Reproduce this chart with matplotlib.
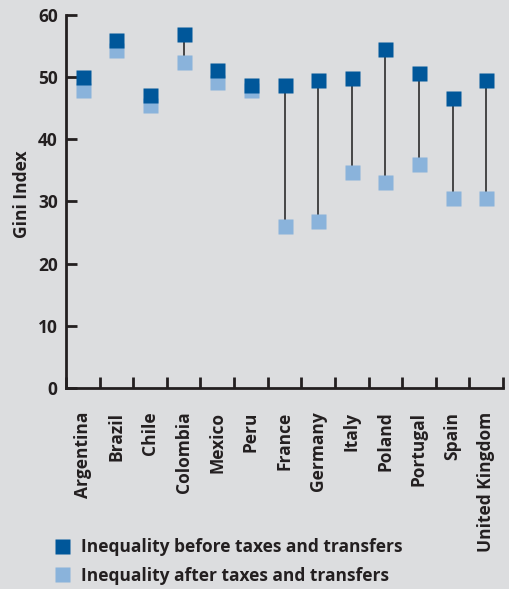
import matplotlib.pyplot as plt
from matplotlib.lines import Line2D
import numpy as np

countries = ["Argentina", "Brazil", "Chile", "Colombia", "Mexico", "Peru", "France",
             "Germany", "Italy", "Poland", "Portugal", "Spain", "United Kingdom"]
gini_before = [50.1, 56.0, 47.2, 56.9, 51.1, 48.7, 48.8, 49.5, 49.9, 54.6, 50.7, 46.7, 49.6]
gini_after = [48.0, 54.3, 45.6, 52.4, 49.3, 47.9, 26.0, 26.8, 34.8, 33.2, 36.1, 30.5, 30.6]
y_ticks = [0, 10, 20, 30, 40, 50, 60]

bg = "#dcdddf"
dark_blue = "#00579a"
light_blue = "#8ab3db"
ink = "#231f20"
fs = 12.5

plt.rcParams["font.family"] = ["Open Sans", "DejaVu Sans"]

fig = plt.figure(figsize=(5.09, 5.89), dpi=100, facecolor=bg)
ax = fig.add_axes([0.1297, 0.3413, 0.8585, 0.6332], facecolor=bg)

x = np.arange(len(countries)) + 0.5

# connecting lines behind the squares
ax.vlines(x, gini_after, gini_before, color="#3a3a3a", lw=1.3, zorder=1)
ax.plot(x, gini_after, "s", ms=10.8, color=light_blue, mec="none", zorder=2)
ax.plot(x, gini_before, "s", ms=10.8, color=dark_blue, mec="none", zorder=3)

ax.set_xlim(0, len(countries))
ax.set_ylim(0, 60)

ax.set_yticks(y_ticks)
ax.set_yticklabels([str(t) for t in y_ticks], fontsize=fs, fontweight="bold", color=ink)
ax.tick_params(axis="y", direction="in", length=8, width=2, color=ink, pad=6)

ax.set_xticks(x)
ax.set_xticklabels(countries, rotation=90, fontsize=fs, fontweight="bold", color=ink)
ax.tick_params(axis="x", which="major", length=0, pad=17)
ax.set_xticks(np.arange(len(countries) + 1), minor=True)
ax.tick_params(axis="x", which="minor", direction="in", length=8, width=2, color=ink)

for side in ["top", "right"]:
    ax.spines[side].set_visible(False)
for side in ["left", "bottom"]:
    ax.spines[side].set_linewidth(2)
    ax.spines[side].set_color(ink)

ax.set_ylabel("Gini Index", fontsize=fs, fontweight="bold", color=ink)
ax.yaxis.set_label_coords(-0.08, 0.52)

handles = [
    Line2D([], [], ls="none", marker="s", ms=10.8, color=dark_blue, mec="none"),
    Line2D([], [], ls="none", marker="s", ms=10.8, color=light_blue, mec="none"),
]
fig.legend(handles, ["Inequality before taxes and transfers",
                     "Inequality after taxes and transfers"],
           loc="upper left", bbox_to_anchor=(0.104, 0.087), frameon=False,
           handletextpad=0.6, labelspacing=0.62, handlelength=1.0,
           prop={"size": fs, "weight": "bold"}, labelcolor=ink,
           borderpad=0, borderaxespad=0)

fig.savefig("out.png", dpi=100, facecolor=bg)
